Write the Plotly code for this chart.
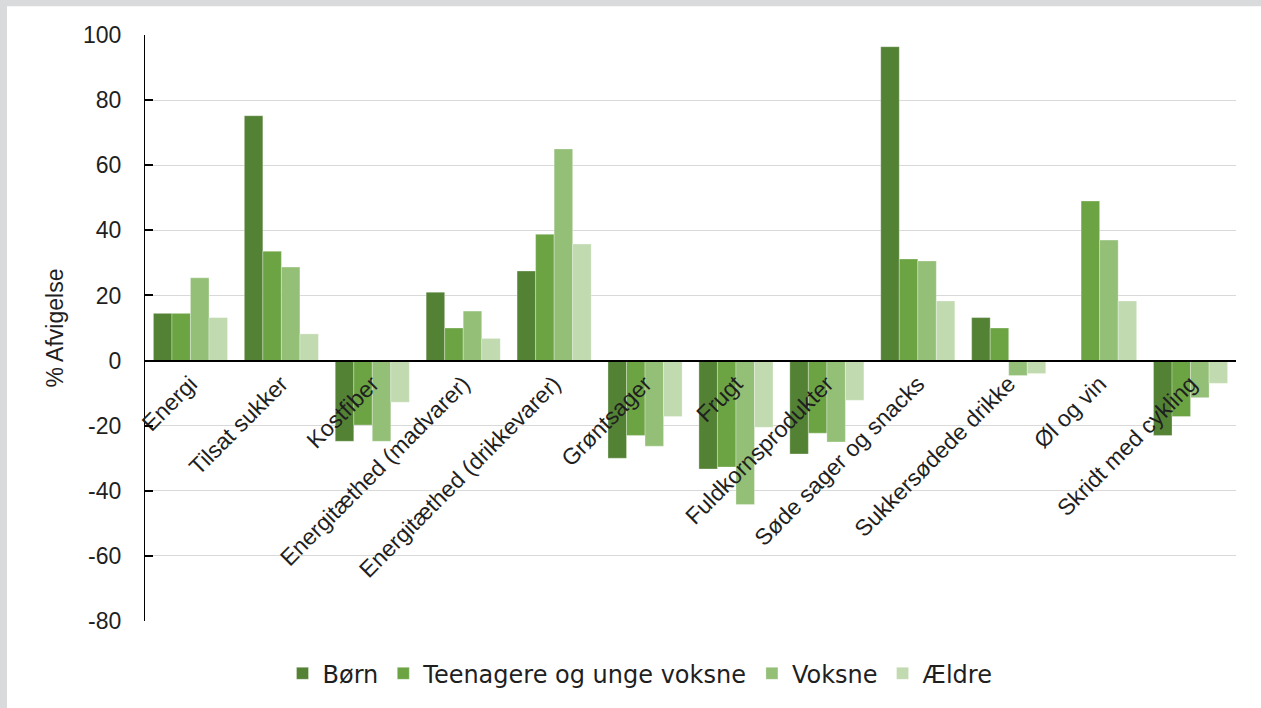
import plotly.graph_objects as go

categories = ["Energi", "Tilsat sukker", "Kostfiber", "Energitæthed (madvarer)",
              "Energitæthed (drikkevarer)", "Grøntsager", "Frugt", "Fuldkornsprodukter",
              "Søde sager og snacks", "Sukkersødede drikke", "Øl og vin", "Skridt med cykling"]
born = [14.5, 75.2, -24.8, 21.0, 27.5, -30.0, -33.3, -28.7, 96.4, 13.2, None, -23.0]
teen = [14.5, 33.6, -19.8, 10.0, 38.8, -23.0, -32.7, -22.3, 31.2, 10.0, 49.0, -17.2]
voksne = [25.4, 28.7, -24.8, 15.2, 65.0, -26.3, -44.2, -25.0, 30.6, -4.6, 37.0, -11.4]
aeldre = [13.2, 8.2, -12.8, 6.8, 35.8, -17.2, -20.5, -12.2, 18.3, -4.0, 18.3, -7.0]

y_tick_values = [-80, -60, -40, -20, 0, 20, 40, 60, 80, 100]
y_tick_labels = ["-80", "-60", "-40", "-20", "0", "20", "40", "60", "80", "100"]

series_names = ["Børn", "Teenagere og unge voksne", "Voksne", "Ældre"]
series_vals = [born, teen, voksne, aeldre]
colors = ["#548235", "#6ca444", "#93bf77", "#c1dab0"]

FONT = "Liberation Sans, Arial, sans-serif"
TXT = "#1f1f1f"

fig = go.Figure()
for name, vals, col in zip(series_names, series_vals, colors):
    fig.add_trace(go.Bar(
        x=categories, y=vals, name=name,
        marker=dict(color=col, line=dict(color="rgba(255,255,255,0.5)", width=0.6)),
    ))

ymin, ymax = -80, 100
W, H = 1261, 708
ml, mr, mt, mb = 145, 25, 35, 84
pw = W - ml - mr
ph = H - mt - mb

fig.update_layout(
    width=W, height=H,
    margin=dict(l=ml, r=mr, t=mt, b=mb),
    paper_bgcolor="white", plot_bgcolor="white",
    barmode="group", bargap=0.185, bargroupgap=0,
    font=dict(family=FONT, size=23, color=TXT),
    showlegend=True,
    legend=dict(orientation="h", x=0.4537, xanchor="center", y=-0.09, yanchor="middle",
                font=dict(family="DejaVu Sans, sans-serif", size=24, color=TXT), itemwidth=30,
                traceorder="normal", bgcolor="rgba(0,0,0,0)"),
    xaxis=dict(
        anchor="free", position=(0 - ymin) / (ymax - ymin),
        showline=True, linecolor="black", linewidth=1.5,
        ticks="", tickangle=-45, showgrid=False, zeroline=False,
        tickfont=dict(family=FONT, size=23, color=TXT),
    ),
    yaxis=dict(
        range=[ymin, ymax], tickmode="array", tickvals=y_tick_values, ticktext=y_tick_labels,
        showline=True, linecolor="black", linewidth=1.3,
        ticks="inside", ticklen=8, tickcolor="black", tickwidth=1.5,
        ticklabelstandoff=18,
        showgrid=True, gridcolor="#d9d9d9", gridwidth=1.3,
        zeroline=False,
        tickfont=dict(family=FONT, size=23, color=TXT),
        title=dict(text="% Afvigelse", font=dict(family=FONT, size=23, color=TXT), standoff=12),
    ),
    shapes=[
        dict(type="rect", xref="paper", yref="paper",
             x0=-ml / pw - 0.01, x1=(7 - ml) / pw, y0=-mb / ph - 0.05, y1=1 + mt / ph + 0.05,
             fillcolor="#d9dadc", line=dict(width=0), layer="below"),
        dict(type="rect", xref="paper", yref="paper",
             x0=-ml / pw - 0.01, x1=1 + mr / pw + 0.01, y0=1 + (mt - 6) / ph, y1=1 + mt / ph + 0.05,
             fillcolor="#d9dadc", line=dict(width=0), layer="below"),
    ],
)

fig.write_html("out.html")
